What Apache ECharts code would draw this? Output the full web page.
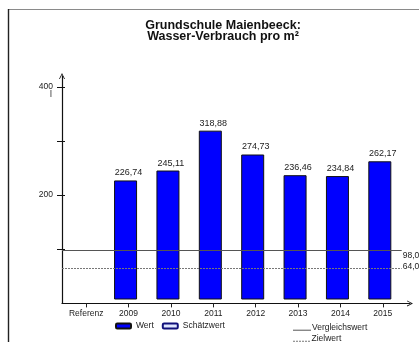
<!DOCTYPE html>
<html><head><meta charset="utf-8">
<script src="https://cdn.jsdelivr.net/npm/echarts@6/dist/echarts.min.js"></script>
<style>html,body{margin:0;padding:0;background:#fff}#c{width:419px;height:342px}</style>
</head><body><div id="c"></div>
<script>
// ---- data ----
const titleText = 'Grundschule Maienbeeck:\nWasser-Verbrauch pro m\u00b2';
const categories = ['Referenz', '2009', '2010', '2011', '2012', '2013', '2014', '2015'];
const wert = [null, 226.74, 245.11, 318.88, 274.73, 236.46, 234.84, 262.17];
const schaetzwert = [null, null, null, null, null, null, null, null];
const vergleichswert = 98.0;
const zielwert = 64.0;
const yTickValues = [100, 200, 300, 400];
const yLabelValues = [200, 400];
const yUnit = 'l';
const legendBars = ['Wert', 'Sch\u00e4tzwert'];
const legendLines = ['Vergleichswert', 'Zielwert'];

const fmt = v => (v == null ? '' : Number(v).toFixed(1).replace('.', ','));
const fmt2 = v => (v == null ? '' : Number(v).toFixed(2).replace('.', ','));
const FONT = 'Liberation Sans, Arial, sans-serif';
const chevron = 'path://M0,10 L5,0 L10,10 L8.6,10 L5,2.8 L1.4,10 Z';
const dotted = 'path://M0,0h2v1h-2zM3,0h2v1h-2zM6,0h2v1h-2zM9,0h2v1h-2zM12,0h2v1h-2zM15,0h2v1h-2z';
const lineLegend = (name, icon, top) => ({
  data: [{name: name, icon: icon}], left: 293, top: top, padding: 0,
  itemWidth: 18, itemHeight: 1,
  textStyle: {fontFamily: FONT, fontSize: 8.5, color: '#222', lineHeight: 5, padding: [0, 0, 0, -4]},
  formatter: n => n + '\n'
});

const chart = echarts.init(document.getElementById('c'), null, {renderer: 'canvas'});
chart.setOption({
  animation: false,
  backgroundColor: '#fff',
  graphic: [
    {type: 'line', shape: {x1: 8, y1: 9.5, x2: 419, y2: 9.5}, style: {stroke: '#8a8a8a', lineWidth: 1}},
    {type: 'line', shape: {x1: 8.5, y1: 9, x2: 8.5, y2: 342}, style: {stroke: '#222', lineWidth: 1.4}},
    {type: 'text', x: 223, y: 20.5, style: {text: titleText, fill: '#111', align: 'center', verticalAlign: 'top',
      font: 'bold 12.5px ' + FONT, lineHeight: 11}}
  ],
  grid: [
    {left: 65, right: 15, top: 76, bottom: 43},      // bars
    {left: 62, right: 9, top: 76, bottom: 38.6},     // axes with arrows
    {left: 62, right: 17.3, top: 76, bottom: 38.6}   // reference lines
  ],
  xAxis: [
    {gridIndex: 0, type: 'category', data: categories, offset: 4.4,
     axisLine: {show: false},
     axisTick: {show: true, alignWithLabel: true, length: 4, lineStyle: {color: '#222'}},
     axisLabel: {interval: 0, margin: 6, fontFamily: FONT, fontSize: 8.5, color: '#222'}},
    {gridIndex: 1, type: 'value', min: 0, max: 1, splitLine: {show: false},
     axisLine: {show: true, lineStyle: {color: '#111', width: 1.2}, symbol: ['none', chevron], symbolSize: [8, 6]},
     axisTick: {show: false}, axisLabel: {show: false}},
    {gridIndex: 2, type: 'value', min: 0, max: 1, show: false}
  ],
  yAxis: [
    {gridIndex: 0, type: 'value', min: 7.4, max: 420, show: false},
    {gridIndex: 1, type: 'value', min: 0, max: 420, splitLine: {show: false},
     axisLine: {show: true, lineStyle: {color: '#111', width: 1.2}, symbol: ['none', chevron], symbolSize: [8, 6]},
     axisTick: {show: true, length: 5, customValues: yTickValues, lineStyle: {color: '#111'}},
     axisLabel: {customValues: yLabelValues, margin: 9, fontFamily: FONT, fontSize: 8.5, color: '#222'}},
    {gridIndex: 2, type: 'value', min: 0, max: 420, splitLine: {show: false},
     axisLine: {show: false},
     axisTick: {show: true, inside: true, length: 3, customValues: yTickValues, lineStyle: {color: '#111'}},
     axisLabel: {customValues: [yLabelValues[yLabelValues.length - 1]], formatter: () => '\n\n' + yUnit,
       lineHeight: 8, margin: 10, fontFamily: FONT, fontSize: 8.5, color: '#222'}}
  ],
  legend: [
    {data: legendBars, left: 115, top: 321.5, padding: 0, itemWidth: 15, itemHeight: 5, itemGap: 8,
     textStyle: {fontFamily: FONT, fontSize: 8.5, color: '#222'}},
    lineLegend(legendLines[0], 'rect', 323.2),
    lineLegend(legendLines[1], dotted, 334.2)
  ],
  series: [
    {name: legendBars[0], type: 'bar', xAxisIndex: 0, yAxisIndex: 0, data: wert,
     barWidth: 23, barGap: 0,
     itemStyle: {color: '#0000ff', borderColor: '#111', borderWidth: 1},
     label: {show: true, position: 'top', distance: 3, offset: [3, 0], formatter: p => fmt2(p.value),
       fontFamily: FONT, fontSize: 9, color: '#222'}},
    {name: legendBars[1], type: 'bar', xAxisIndex: 0, yAxisIndex: 0, data: schaetzwert,
     barWidth: 6, barGap: 0,
     itemStyle: {color: '#dfe6ff', borderColor: '#10107a', borderWidth: 1}},
    {name: legendLines[0], type: 'line', xAxisIndex: 2, yAxisIndex: 2, data: [], symbol: 'none',
     itemStyle: {color: '#555'}, lineStyle: {color: '#555', width: 1},
     markLine: {silent: true, symbol: ['none', 'none'],
       lineStyle: {color: '#555', width: 1, type: 'solid'},
       label: {position: 'end', distance: 1, formatter: p => '\n' + fmt(p.value), lineHeight: 10,
         fontFamily: FONT, fontSize: 8.5, color: '#222'},
       data: [{yAxis: vergleichswert}]}},
    {name: legendLines[1], type: 'line', xAxisIndex: 2, yAxisIndex: 2, data: [], symbol: 'none',
     itemStyle: {color: '#777'}, lineStyle: {color: '#777', width: 1, type: [2, 2]},
     markLine: {silent: true, symbol: ['none', 'none'],
       lineStyle: {color: '#777', width: 1, type: [2, 1]},
       label: {position: 'end', distance: 1, formatter: p => fmt(p.value) + '\n', lineHeight: 5,
         fontFamily: FONT, fontSize: 8.5, color: '#222'},
       data: [{yAxis: zielwert}]}}
  ]
});
</script></body></html>
